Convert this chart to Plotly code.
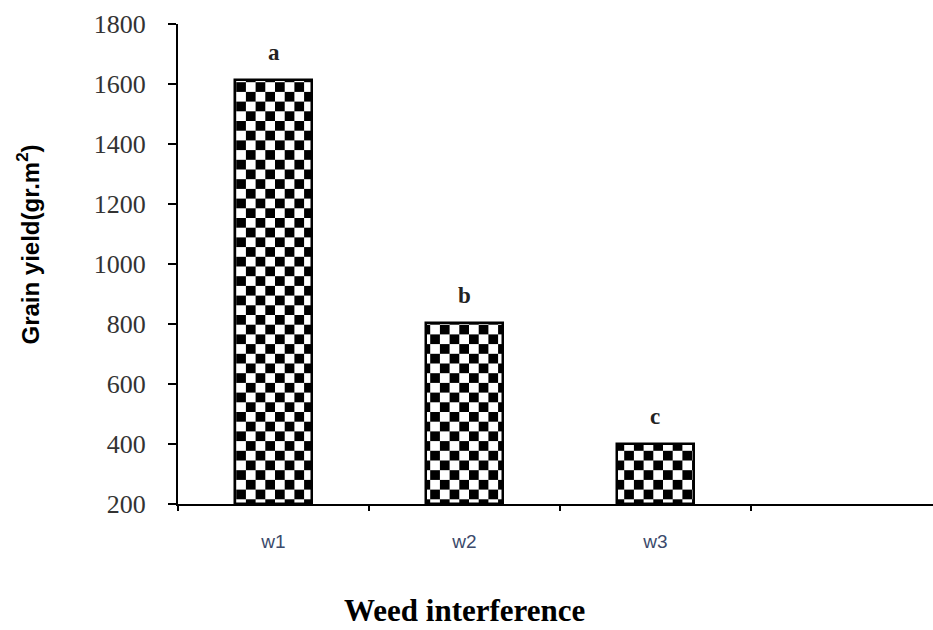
import plotly.graph_objects as go

categories = ["w1", "w2", "w3"]
values = [1615, 805, 400]
letters = ["a", "b", "c"]
y_ticks = [200, 400, 600, 800, 1000, 1200, 1400, 1600, 1800]

xpos = list(range(len(categories)))

s = 19.4
h = s / 2
check_path = f"M0,0H{h}V{h}H0Z M{h},{h}H{s}V{s}H{h}Z"

pattern = dict(shape="+", size=s, solidity=0.5, fgcolor="black", bgcolor="white", fillmode="replace")
try:
    go.bar.marker.Pattern(path=check_path)
    pattern = dict(path=check_path, size=s, solidity=1, fgcolor="black", bgcolor="white", fillmode="replace")
except Exception:
    pass

fig = go.Figure()
fig.add_trace(go.Bar(
    x=xpos, y=[v - 200 for v in values], base=200,
    width=0.405,
    marker=dict(color="white", line=dict(color="black", width=2.5), pattern=pattern),
    showlegend=False,
))

for xi, v, t in zip(xpos, values, letters):
    fig.add_annotation(x=xi, y=v, text=f"<b>{t}</b>", showarrow=False, yanchor="bottom", yshift=13,
                       font=dict(family="Liberation Serif", size=23, color="#222"))

fig.add_annotation(x=1, y=0, xref="x", yref="paper", yshift=-106, yanchor="middle",
                   text="<b>Weed interference</b>", showarrow=False,
                   font=dict(family="Liberation Serif", size=31, color="black"))

fig.add_annotation(x=0, y=0.5406, xref="paper", yref="paper", xshift=-150,
                   xanchor="center", yanchor="middle", textangle=-90,
                   text="<b>Grain yield(gr.m<sup>2</sup>)</b>", showarrow=False,
                   font=dict(family="Liberation Sans", size=24, color="black"))

fig.update_layout(
    width=933, height=630,
    margin=dict(l=178, r=0, t=24, b=126),
    paper_bgcolor="white", plot_bgcolor="white",
    bargap=0,
    xaxis=dict(
        range=[-0.5, 3.453],
        tickmode="array", tickvals=xpos, ticktext=categories,
        ticks="", showgrid=False, zeroline=False,
        showline=True, linecolor="black", linewidth=1.5,
        tickfont=dict(family="Liberation Sans", size=19, color="#3b4a6b"),
        ticklabelstandoff=19,
    ),
    xaxis2=dict(
        overlaying="x", matches="x", range=[-0.5, 3.453],
        tickmode="array", tickvals=[-0.5, 0.5, 1.5, 2.5],
        ticks="outside", ticklen=6, tickwidth=2, tickcolor="black",
        showticklabels=False, showgrid=False, zeroline=False, showline=False,
        anchor="y", side="bottom",
    ),
    yaxis=dict(
        range=[200, 1800], tickmode="array", tickvals=y_ticks,
        ticks="outside", ticklen=8, tickwidth=2, tickcolor="black",
        showline=True, linecolor="black", linewidth=2,
        showgrid=False, zeroline=False,
        tickfont=dict(family="Liberation Serif", size=26, color="#333"),
        ticklabelstandoff=17,
    ),
)
fig.add_trace(go.Scatter(x=[None], y=[None], xaxis="x2", yaxis="y", showlegend=False))

fig.write_html("out.html")
